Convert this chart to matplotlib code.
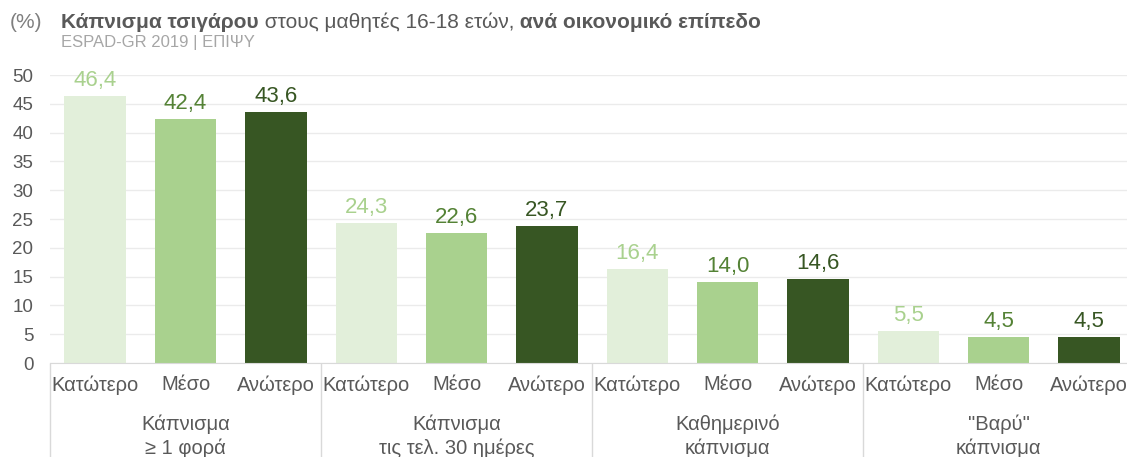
import numpy as np
import matplotlib.pyplot as plt

plt.rcParams["font.family"] = ["Liberation Sans", "DejaVu Sans"]

groups = ["Κάπνισμα\n≥ 1 φορά", "Κάπνισμα\nτις τελ. 30 ημέρες",
          "Καθημερινό\nκάπνισμα", "\"Βαρύ\"\nκάπνισμα"]
levels = ["Κατώτερο", "Μέσο", "Ανώτερο"]
lower = [46.4, 24.3, 16.4, 5.5]
middle = [42.4, 22.6, 14.0, 4.5]
upper = [43.6, 23.7, 14.6, 4.5]

bar_colors = ["#e2efda", "#a9d18e", "#375623"]
label_colors = ["#a9d18e", "#548235", "#375623"]
text_gray = "#595959"

fig = plt.figure(figsize=(11.27, 4.57), dpi=100)
ax = fig.add_axes([50 / 1127, 94 / 457, 1077 / 1127, 288 / 457])

series = [lower, middle, upper]
for g in range(len(groups)):
    for k, vals in enumerate(series):
        x = g * 3 + k
        v = vals[g]
        ax.bar(x, v, width=0.68, color=bar_colors[k], zorder=2)
        ax.annotate(f"{v:.1f}".replace(".", ","), xy=(x, v), xytext=(0, 5),
                    textcoords="offset pixels", ha="center", va="bottom",
                    fontsize=16, color=label_colors[k])
        ax.annotate(levels[k], xy=(x, 0), xycoords=ax.get_xaxis_transform(),
                    xytext=(0, -22), textcoords="offset pixels",
                    ha="center", va="center", fontsize=14.5, color=text_gray)
    ax.annotate(groups[g], xy=(g * 3 + 1, 0), xycoords=ax.get_xaxis_transform(),
                xytext=(0, -51), textcoords="offset pixels",
                ha="center", va="top", fontsize=14.5, color=text_gray,
                linespacing=1.3)

# group separators below the axis
ax.vlines([-0.5, 2.5, 5.5, 8.5], 0, -0.35, transform=ax.get_xaxis_transform(),
          colors="#d9d9d9", linewidth=1, clip_on=False)

ax.set_xlim(-0.5, 11.42)
ax.set_ylim(0, 50)
ax.set_yticks(range(0, 51, 5))
ax.set_xticks([])
ax.tick_params(axis="y", length=0, labelsize=13.5, labelcolor=text_gray, pad=12)
ax.grid(axis="y", color="#ebebeb", linewidth=1, zorder=0)
for side in ["left", "right", "top"]:
    ax.spines[side].set_visible(False)
ax.spines["bottom"].set_color("#d9d9d9")

# title
t1 = fig.text(10 / 1127, 1 - 22 / 457, "(%)", fontsize=15, color="#7f7f7f", va="center")
t2 = fig.text(61 / 1127, 1 - 22 / 457, "Κάπνισμα τσιγάρου", fontsize=15,
              fontweight="bold", color=text_gray, va="center")
t3 = ax.annotate(" στους μαθητές 16-18 ετών,", xy=(1, 0), xycoords=t2, va="bottom",
                 fontsize=15, color=text_gray)
ax.annotate(" ανά οικονομικό επίπεδο", xy=(1, 0), xycoords=t3, va="bottom",
            fontsize=15, fontweight="bold", color=text_gray)
fig.text(61 / 1127, 1 - 43 / 457, "ESPAD-GR 2019 | ΕΠΙΨΥ", fontsize=12,
         color="#a6a6a6", va="center")

fig.savefig("out.png", dpi=100)
